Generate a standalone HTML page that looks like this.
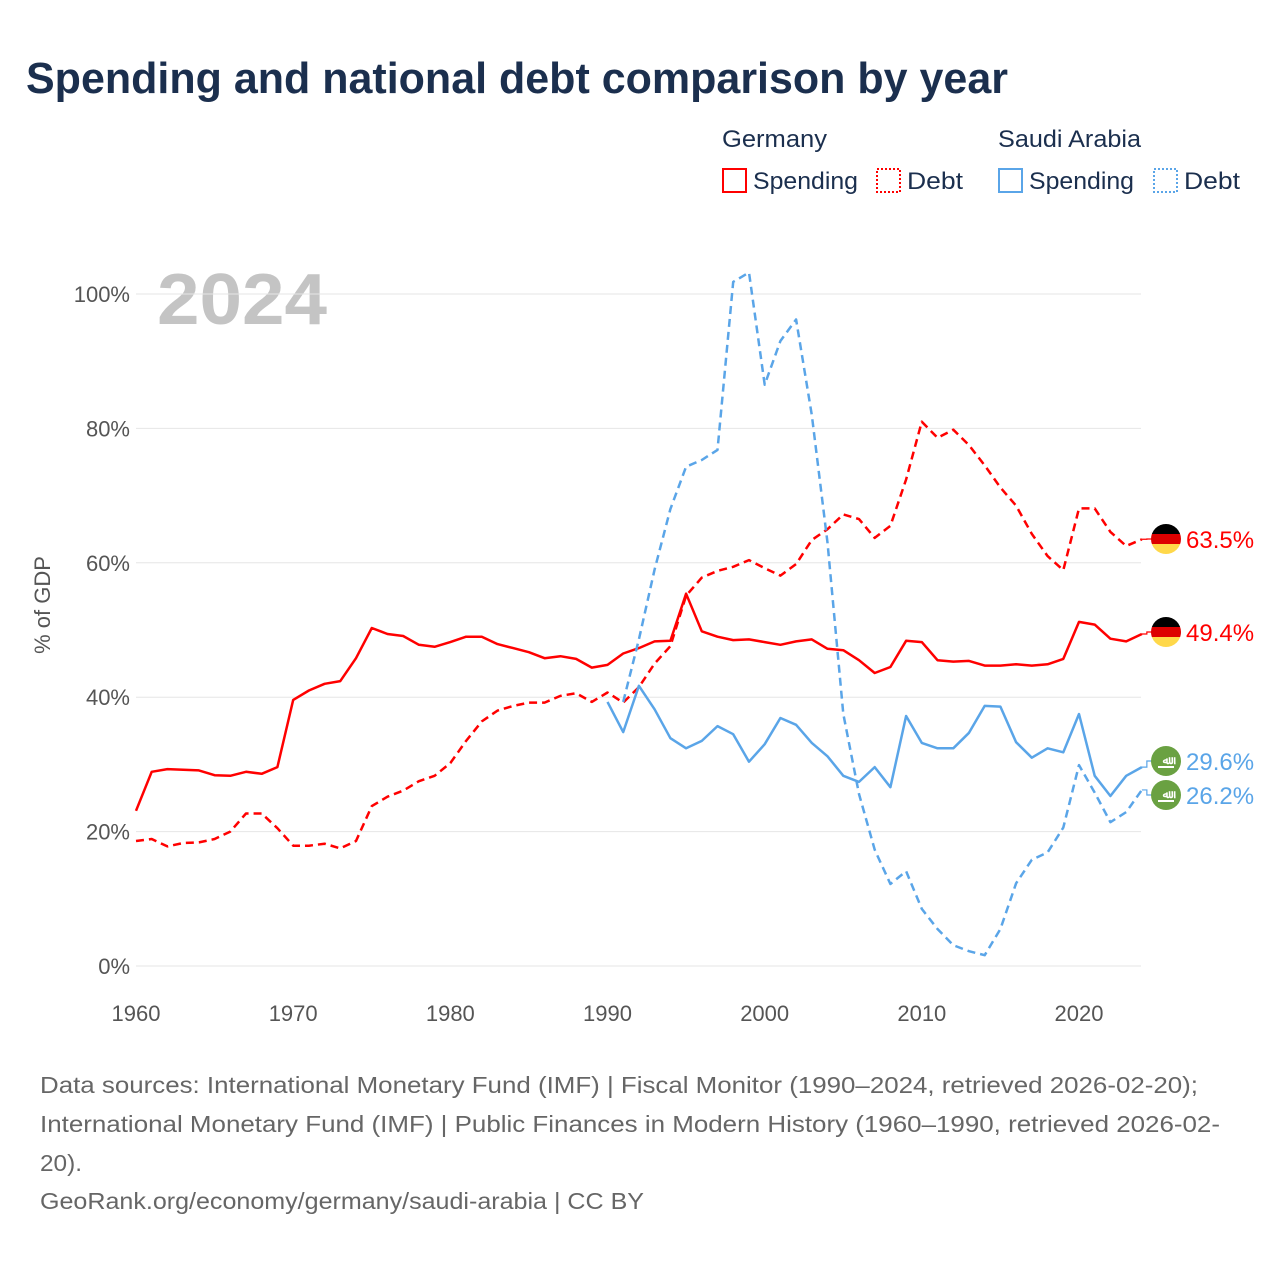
<!DOCTYPE html>
<html><head><meta charset="utf-8"><style>
body{margin:0;background:#fff;}
svg text{font-family:"Liberation Sans",sans-serif;}
</style></head><body>
<svg id="chart" width="1280" height="1280" viewBox="0 0 1280 1280" xmlns="http://www.w3.org/2000/svg">
<rect width="1280" height="1280" fill="#fff"/>
<text x="26" y="93" font-size="44" font-weight="bold" fill="#1b2f4e" textLength="982" lengthAdjust="spacingAndGlyphs">Spending and national debt comparison by year</text>
<g font-size="24" fill="#1b2f4e">
<text x="722" y="147" fill="#1b2f4e" textLength="105" lengthAdjust="spacingAndGlyphs">Germany</text>
<text x="998" y="147" fill="#1b2f4e" textLength="143" lengthAdjust="spacingAndGlyphs">Saudi Arabia</text>
<g><rect x="723" y="169" width="23" height="23" fill="none" stroke="#ff0000" stroke-width="2"/><text x="753" y="189" fill="#1b2f4e" textLength="105" lengthAdjust="spacingAndGlyphs">Spending</text></g>
<g><rect x="877" y="169" width="23" height="23" fill="none" stroke="#ff0000" stroke-width="2" stroke-dasharray="2,2"/><text x="907" y="189" fill="#1b2f4e" textLength="56" lengthAdjust="spacingAndGlyphs">Debt</text></g>
<g><rect x="999" y="169" width="23" height="23" fill="none" stroke="#5aa5e8" stroke-width="2"/><text x="1029" y="189" fill="#1b2f4e" textLength="105" lengthAdjust="spacingAndGlyphs">Spending</text></g>
<g><rect x="1154" y="169" width="23" height="23" fill="none" stroke="#5aa5e8" stroke-width="2" stroke-dasharray="2,2"/><text x="1184" y="189" fill="#1b2f4e" textLength="56" lengthAdjust="spacingAndGlyphs">Debt</text></g>
</g>
<text x="157" y="324" font-size="72" font-weight="bold" fill="#c4c4c4" textLength="170" lengthAdjust="spacingAndGlyphs">2024</text>
<g id="grid"></g>
<g id="series"></g>
<g id="ends"></g>
<text transform="translate(50,605) rotate(-90)" text-anchor="middle" font-size="22" fill="#555">% of GDP</text>
<g font-size="23" fill="#666">
<text x="40" y="1093" textLength="1158" lengthAdjust="spacingAndGlyphs">Data sources: International Monetary Fund (IMF) | Fiscal Monitor (1990–2024, retrieved 2026-02-20);</text>
<text x="40" y="1132" textLength="1180" lengthAdjust="spacingAndGlyphs">International Monetary Fund (IMF) | Public Finances in Modern History (1960–1990, retrieved 2026-02-</text>
<text x="40" y="1171" textLength="42" lengthAdjust="spacingAndGlyphs">20).</text>
<text x="40" y="1209" textLength="604" lengthAdjust="spacingAndGlyphs">GeoRank.org/economy/germany/saudi-arabia | CC BY</text>
</g>
</svg>
<script>
const yTicks=[0,20,40,60,80,100];
const xTicks=[1960,1970,1980,1990,2000,2010,2020];
const deSpendStart=1960;
const deSpending=[23.1,28.9,29.3,29.2,29.1,28.4,28.3,28.9,28.6,29.6,39.6,41.0,42.0,42.4,45.8,50.3,49.4,49.1,47.8,47.5,48.2,49.0,49.0,47.9,47.3,46.7,45.8,46.1,45.7,44.4,44.8,46.5,47.3,48.3,48.4,55.4,49.8,49.0,48.5,48.6,48.2,47.8,48.3,48.6,47.2,47.0,45.5,43.6,44.5,48.4,48.2,45.5,45.3,45.4,44.7,44.7,44.9,44.7,44.9,45.7,51.2,50.8,48.7,48.3,49.4];
const deDebtStart=1960;
const deDebt=[18.6,18.9,17.8,18.3,18.4,18.9,20.0,22.7,22.7,20.5,17.9,17.9,18.2,17.5,18.6,23.8,25.2,26.1,27.5,28.3,30.2,33.5,36.4,38.0,38.7,39.2,39.2,40.2,40.6,39.3,40.7,39.2,41.5,45.0,47.6,55.1,57.8,58.8,59.4,60.4,59.2,58.1,59.8,63.4,65.0,67.2,66.5,63.7,65.5,72.4,81.0,78.6,79.8,77.5,74.5,71.2,68.5,64.3,61.0,58.9,68.1,68.1,64.6,62.5,63.5];
const saSpendStart=1990;
const saSpending=[39.3,34.8,41.7,38.2,33.9,32.4,33.5,35.7,34.5,30.4,33.0,36.9,35.9,33.2,31.2,28.3,27.4,29.6,26.6,37.2,33.2,32.4,32.4,34.7,38.7,38.6,33.3,31.0,32.4,31.8,37.5,28.3,25.3,28.3,29.6];
const saDebtStart=1991;
const saDebt=[39.3,48.6,59.0,68.0,74.3,75.3,76.8,101.8,103.2,86.5,93.0,96.2,82.0,63.0,37.5,25.6,17.3,12.2,14.1,8.5,5.5,3.1,2.2,1.6,5.5,12.3,15.8,16.9,20.6,29.9,25.8,21.4,22.9,26.2];

const NS='http://www.w3.org/2000/svg';
const X0=136,X1=1079,Y0=966,Y1=294;
const x=yr=>X0+(yr-1960)*(X1-X0)/60;
const y=v=>Y0-v*(Y0-Y1)/100;
function mk(tag,attrs,parent){const e=document.createElementNS(NS,tag);for(const k in attrs)e.setAttribute(k,attrs[k]);parent.appendChild(e);return e;}
const grid=document.getElementById('grid');
yTicks.forEach(t=>{
  const l=mk('line',{x1:X0,x2:1141,y1:y(t),y2:y(t),stroke:'#e6e6e6','stroke-width':1},grid);
  
  
  const tx=mk('text',{x:130,y:y(t)+8,'text-anchor':'end','font-size':22,fill:'#555'},grid);
  tx.textContent=t+'%';
  
  
});
xTicks.forEach(t=>{
  const tx=mk('text',{x:x(t),y:1021,'text-anchor':'middle','font-size':22,fill:'#555'},grid);
  tx.textContent=t;
  
  
});
const series=document.getElementById('series');
function line(vals,start,color,dash,name){
  const d=vals.map((v,i)=>(i?'L':'M')+x(start+i).toFixed(1)+','+y(v).toFixed(1)).join('');
  const p=mk('path',{d:d,fill:'none',stroke:color,'stroke-width':2.5,'stroke-linejoin':'round'},series);
  if(dash)p.setAttribute('stroke-dasharray','8,5');
  
  
}
line(deDebt,deDebtStart,'#ff0000',true,'germany-debt-line');
line(deSpending,deSpendStart,'#ff0000',false,'germany-spending-line');
line(saDebt,saDebtStart,'#5aa5e8',true,'saudi-debt-line');
line(saSpending,saSpendStart,'#5aa5e8',false,'saudi-spending-line');

const ends=document.getElementById('ends');
function endLabel(v,ly,color,flag,name){
  const ex=x(2024),ey=y(v);
  mk('path',{d:`M${ex},${ey}L${ex+5},${ey}L${ex+5},${ly}L1152,${ly}`,fill:'none',stroke:color,'stroke-width':1.2},ends);
  const g=mk('g',{},ends);
  
  
  if(flag==='de'){
    mk('clipPath',{id:'c'+ly},g).appendChild(document.createElementNS(NS,'circle'));
    const c=g.querySelector('clipPath circle');c.setAttribute('cx',1166);c.setAttribute('cy',ly);c.setAttribute('r',15);
    const cg=mk('g',{'clip-path':`url(#c${ly})`},g);
    mk('rect',{x:1151,y:ly-15,width:30,height:10,fill:'#000'},cg);
    mk('rect',{x:1151,y:ly-5,width:30,height:10,fill:'#dd0000'},cg);
    mk('rect',{x:1151,y:ly+5,width:30,height:10,fill:'#ffd84a'},cg);
  }else{
    mk('circle',{cx:1166,cy:ly,r:15,fill:'#6aa142'},g);
    const t=mk('text',{x:1166,y:ly+3,'text-anchor':'middle','font-size':11,'font-weight':'bold',fill:'#fff'},g);
    t.textContent='ﷲ';
    mk('rect',{x:1158,y:ly+5,width:16,height:2,fill:'#fff'},g);
  }
  const t=mk('text',{x:1186,y:ly+9,'font-size':24,fill:color},g);
  t.textContent=v.toFixed(1)+'%';
}
endLabel(deDebt[deDebt.length-1],539,'#ff0000','de','germany-debt-end-label');
endLabel(deSpending[deSpending.length-1],632,'#ff0000','de','germany-spending-end-label');
endLabel(saSpending[saSpending.length-1],761,'#5aa5e8','sa','saudi-spending-end-label');
endLabel(saDebt[saDebt.length-1],795,'#5aa5e8','sa','saudi-debt-end-label');
</script>
</body></html>
